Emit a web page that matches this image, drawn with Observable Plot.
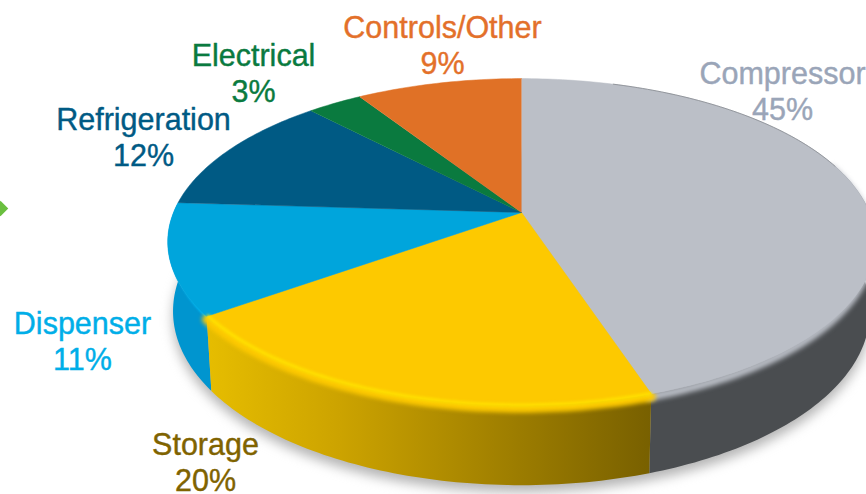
<!DOCTYPE html>
<html>
<head>
<meta charset="utf-8">
<script src="https://cdn.jsdelivr.net/npm/d3@7"></script>
<script src="https://cdn.jsdelivr.net/npm/@observablehq/plot@0.6"></script>
<style>
  html, body { margin: 0; padding: 0; background: #fff; overflow: hidden; }
  svg { display: block; }
</style>
</head>
<body>
<div id="chart"></div>
<script>
// Component cost shares, clockwise from twelve o'clock.
const components = ["Compressor", "Storage", "Dispenser", "Refrigeration", "Electrical", "Controls/Other"];
const shares = [45, 20, 11, 12, 3, 9];

// Slice, bevel and label colours per component.
const faceColors = ["#bbbfc7", "#fdc900", "#00a5dc", "#005a84", "#0a7a3f", "#e07126"];
const bevelColors = ["#bbbfc7", "#ffe100", "#00bdf8", "#005a84", "#0a7a3f", "#e07126"];
const labelColors = ["#9aa5b8", "#7f6300", "#00aee8", "#005a84", "#0a7a3f", "#e3702a"];

// Label block centres, in chart units.
const labelX = [782, 205, 82, 143, 253, 442];
const labelY = [90, 461, 340, 136, 72, 44];

// Tilted-disc projection: a unit circle seen in perspective.
const view = {cx: 521, cy: 212, a: 348, b: 158, k: 0.18};
const project = (turn) => {
  const t = turn * 2 * Math.PI;
  const u = Math.sin(t), v = Math.cos(t), w = 1 + view.k * v;
  return {x: view.cx + view.a * u / w, y: view.cy - view.b * v / w, v};
};
// The lower rim sits a perspective-dependent depth below the upper rim.
const lower = (turn) => {
  const p = project(turn);
  return {x: view.cx + (p.x - view.cx) * 0.985, y: p.y + 67 - 13 * Math.min(p.v, 0)};
};

const turnsBetween = (a, b) => d3.range(0, 1 + 1e-9, 1 / Math.max(2, Math.ceil((b - a) * 360))).map((f) => a + (b - a) * f);

// Cumulative turn range of each slice.
const total = d3.sum(shares);
const stops = d3.cumsum(shares).map((s) => s / total);
const slices = components.map((name, i) => ({name, i, start: i ? stops[i - 1] : 0, end: stops[i]}));

const faces = slices.flatMap((s) => [
  {name: s.name, x: view.cx, y: view.cy},
  ...turnsBetween(s.start, s.end).map((t) => ({name: s.name, ...project(t)}))
]);

// Side wall of a slice, limited to the part of the rim facing the viewer.
const frontTurns = (s) => turnsBetween(Math.max(s.start, 0.2), Math.min(s.end, 0.77));
const wall = (s) => {
  const turns = frontTurns(s);
  return [...turns.map((t) => project(t)), ...turns.slice().reverse().map((t) => lower(t))];
};
// Rim path pulled slightly inward and down, for the rounded-edge highlights.
const rim = (s, drop, inset) => frontTurns(s).map((t) => {
  const p = project(t);
  return {x: view.cx + (p.x - view.cx) * inset, y: p.y + drop};
});

const byName = (name) => slices[components.indexOf(name)];

const gradient = () => {
  const defs = d3.create("svg:defs");
  const g = defs.append("linearGradient").attr("id", "storageWall");
  [[0, "#e6bd00"], [0.3, "#cca300"], [0.6, "#a88600"], [0.85, "#8a6e00"], [1, "#786000"]]
    .forEach(([o, c]) => g.append("stop").attr("offset", o).attr("stop-color", c));
  return defs.node();
};

const wallMark = (name, fill) => Plot.line(wall(byName(name)), {x: "x", y: "y", fill, stroke: "none"});
const bevelMark = (name, drop, inset, width, color, blur) => Plot.line(rim(byName(name), drop, inset), {
  x: "x", y: "y", stroke: color, strokeWidth: width, imageFilter: `blur(${blur}px)`
});

const labels = components.map((name, i) => ({
  text: `${name}\n${shares[i]}%`, name, x: labelX[i], y: labelY[i]
}));

// Fragment of the neighbouring arrow at the left edge.
const arrowTip = [{x: 0, y: 208}];

const chart = Plot.plot({
  width: 866,
  height: 494,
  margin: 0,
  x: {domain: [0, 866], axis: null},
  y: {domain: [494, 0], axis: null},
  color: {domain: components, range: faceColors},
  marks: [
    gradient,
    // soft ground shadow
    Plot.line(turnsBetween(0, 1).map((t) => lower(t)).map((p) => ({x: p.x, y: p.y + 7})), {
      x: "x", y: "y", fill: "#b4b4b4", stroke: "none", imageFilter: "blur(6px)"
    }),
    // side walls
    wallMark("Compressor", "#4a4d50"),
    wallMark("Dispenser", "#0095cf"),
    wallMark("Storage", "url(#storageWall)"),
    // rounded top edge, blended over the wall
    bevelMark("Compressor", 3, 0.99, 8, "#bbbfc7", 2.5),
    bevelMark("Dispenser", 3, 0.985, 5, bevelColors[2], 1.2),
    bevelMark("Storage", 3, 1, 9, "#fdc900", 2),
    Plot.line(faces, {x: "x", y: "y", z: "name", fill: "name", stroke: "name", strokeWidth: 0.5}),
    bevelMark("Storage", 0, 0.995, 3.5, bevelColors[1], 1.5),
    // thin shaded line along the back-right rim
    Plot.line(turnsBetween(0.05, 0.2).map((t) => project(t)), {
      x: "x", y: "y", stroke: "#84888e", strokeWidth: 0.8, imageFilter: "blur(0.6px)"
    }),
    Plot.dot(arrowTip, {x: "x", y: "y", symbol: "diamond2", r: 7, fill: "#6abf3f", stroke: "none"}),
    Plot.text(labels, {
      x: "x", y: "y", text: "text",
      fill: (d) => labelColors[components.indexOf(d.name)],
      stroke: (d) => labelColors[components.indexOf(d.name)], strokeWidth: 0.4,
      fontFamily: "Liberation Sans", fontSize: 30.5, lineHeight: 1.18, textAnchor: "middle"
    })
  ]
});

document.getElementById("chart").append(chart);
</script>
</body>
</html>
